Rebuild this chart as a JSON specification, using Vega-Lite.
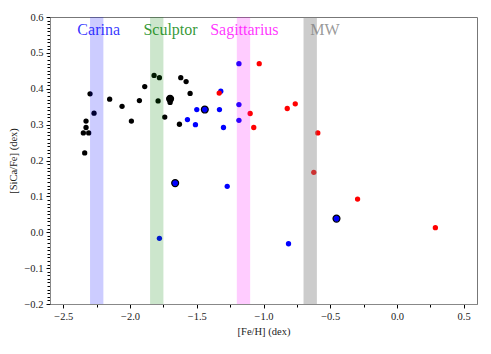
{
  "$schema": "https://vega.github.io/schema/vega-lite/v6.json",
  "autosize": {"type": "none"},
  "padding": {"left": 50, "top": 17, "right": 14, "bottom": 50},
  "width": 427,
  "height": 287,
  "config": {
    "view": {"stroke": "#777", "strokeWidth": 1},
    "font": "Liberation Serif",
    "axis": {"grid": false, "labelFont": "Liberation Serif", "titleFont": "Liberation Serif", "labelFontSize": 10.5, "titleFontSize": 10.5, "titleFontWeight": "normal", "labelColor": "#222", "titleColor": "#222", "domainColor": "#888", "tickColor": "#111"}
  },
  "datasets": {
    "stars": [
      {"feh": -2.30, "sica": 0.386, "grp": "black", "ring": "n"},
      {"feh": -2.27, "sica": 0.332, "grp": "black", "ring": "n"},
      {"feh": -2.33, "sica": 0.310, "grp": "black", "ring": "n"},
      {"feh": -2.33, "sica": 0.292, "grp": "black", "ring": "n"},
      {"feh": -2.35, "sica": 0.277, "grp": "black", "ring": "n"},
      {"feh": -2.31, "sica": 0.277, "grp": "black", "ring": "n"},
      {"feh": -2.34, "sica": 0.221, "grp": "black", "ring": "n"},
      {"feh": -2.153, "sica": 0.371, "grp": "black", "ring": "n"},
      {"feh": -2.06, "sica": 0.351, "grp": "black", "ring": "n"},
      {"feh": -1.99, "sica": 0.310, "grp": "black", "ring": "n"},
      {"feh": -1.93, "sica": 0.367, "grp": "black", "ring": "n"},
      {"feh": -1.89, "sica": 0.406, "grp": "black", "ring": "n"},
      {"feh": -1.82, "sica": 0.437, "grp": "black", "ring": "n"},
      {"feh": -1.78, "sica": 0.431, "grp": "black", "ring": "n"},
      {"feh": -1.79, "sica": 0.366, "grp": "black", "ring": "n"},
      {"feh": -1.70, "sica": 0.362, "grp": "black", "ring": "n"},
      {"feh": -1.62, "sica": 0.431, "grp": "black", "ring": "n"},
      {"feh": -1.58, "sica": 0.420, "grp": "black", "ring": "n"},
      {"feh": -1.55, "sica": 0.387, "grp": "black", "ring": "n"},
      {"feh": -1.74, "sica": 0.321, "grp": "black", "ring": "n"},
      {"feh": -1.63, "sica": 0.301, "grp": "black", "ring": "n"},
      {"feh": -1.70, "sica": 0.372, "grp": "black", "ring": "y"},
      {"feh": -1.662, "sica": 0.137, "grp": "blue", "ring": "y"},
      {"feh": -1.57, "sica": 0.314, "grp": "blue", "ring": "n"},
      {"feh": -1.51, "sica": 0.300, "grp": "blue", "ring": "n"},
      {"feh": -1.50, "sica": 0.342, "grp": "blue", "ring": "n"},
      {"feh": -1.44, "sica": 0.342, "grp": "blue", "ring": "y"},
      {"feh": -1.33, "sica": 0.342, "grp": "blue", "ring": "n"},
      {"feh": -1.32, "sica": 0.393, "grp": "blue", "ring": "n"},
      {"feh": -1.30, "sica": 0.292, "grp": "blue", "ring": "n"},
      {"feh": -1.184, "sica": 0.470, "grp": "blue", "ring": "n"},
      {"feh": -1.184, "sica": 0.356, "grp": "blue", "ring": "n"},
      {"feh": -1.184, "sica": 0.312, "grp": "blue", "ring": "n"},
      {"feh": -1.272, "sica": 0.128, "grp": "blue", "ring": "n"},
      {"feh": -1.78, "sica": -0.017, "grp": "blue", "ring": "n"},
      {"feh": -0.8125, "sica": -0.032, "grp": "blue", "ring": "n"},
      {"feh": -0.453, "sica": 0.038, "grp": "blue", "ring": "y"},
      {"feh": -1.332, "sica": 0.388, "grp": "red", "ring": "n"},
      {"feh": -1.032, "sica": 0.470, "grp": "red", "ring": "n"},
      {"feh": -1.10, "sica": 0.331, "grp": "red", "ring": "n"},
      {"feh": -1.073, "sica": 0.292, "grp": "red", "ring": "n"},
      {"feh": -0.822, "sica": 0.345, "grp": "red", "ring": "n"},
      {"feh": -0.762, "sica": 0.358, "grp": "red", "ring": "n"},
      {"feh": -0.593, "sica": 0.277, "grp": "red", "ring": "n"},
      {"feh": -0.623, "sica": 0.167, "grp": "red", "ring": "n"},
      {"feh": -0.295, "sica": 0.0925, "grp": "red", "ring": "n"},
      {"feh": 0.288, "sica": 0.0128, "grp": "red", "ring": "n"}
    ],
    "bands": [
      {"name": "Carina", "x1": -2.3, "x2": -2.2, "lx": -2.395, "ly": 0.55},
      {"name": "Sculptor", "x1": -1.85, "x2": -1.75, "lx": -1.90, "ly": 0.55},
      {"name": "Sagittarius", "x1": -1.2, "x2": -1.1, "lx": -1.40, "ly": 0.55},
      {"name": "MW", "x1": -0.7, "x2": -0.6, "lx": -0.65, "ly": 0.55}
    ]
  },
  "resolve": {"axis": {"x": "independent", "y": "independent"}, "scale": {"color": "independent"}},
  "layer": [
    {
      "data": {"name": "stars"},
      "mark": {"type": "point", "filled": true, "stroke": "#000", "opacity": 1},
      "encoding": {
        "x": {"field": "feh", "type": "quantitative", "scale": {"domain": [-2.6, 0.6], "nice": false, "zero": false},
              "axis": {"values": [-2.5, -2.0, -1.5, -1.0, -0.5, 0.0, 0.5], "format": ".1f", "title": "[Fe/H] (dex)", "tickSize": 4, "labelPadding": 3, "titlePadding": 5, "orient": "bottom"}},
        "y": {"field": "sica", "type": "quantitative", "scale": {"domain": [-0.2, 0.6], "nice": false, "zero": false},
              "axis": {"values": [-0.2, -0.1, 0.0, 0.1, 0.2, 0.3, 0.4, 0.5, 0.6], "format": ".1f", "title": "[SiCa/Fe] (dex)", "tickSize": 4, "labelPadding": 3, "titlePadding": 5, "orient": "left"}},
        "color": {"field": "grp", "type": "nominal", "scale": {"domain": ["black", "blue", "red"], "range": ["#000000", "#0000ff", "#ff0000"]}, "legend": null},
        "size": {"field": "ring", "type": "nominal", "scale": {"domain": ["n", "y"], "range": [28, 48]}, "legend": null},
        "strokeWidth": {"field": "ring", "type": "nominal", "scale": {"domain": ["n", "y"], "range": [0, 1.2]}, "legend": null}
      }
    },
    {
      "data": {"name": "bands"},
      "mark": {"type": "rect", "opacity": 1},
      "encoding": {
        "x": {"field": "x1", "type": "quantitative", "axis": {"values": [-2.5, -2.25, -2.0, -1.75, -1.5, -1.25, -1.0, -0.75, -0.5, -0.25, 0.0, 0.25, 0.5], "labelExpr": "''", "title": " ", "ticks": true, "tickSize": 3, "tickWidth": 1, "tickColor": "#000", "tickOpacity": 1, "orient": "bottom"}},
        "x2": {"field": "x2"},
        "color": {"field": "name", "type": "nominal", "scale": {"domain": ["Carina", "Sculptor", "Sagittarius", "MW"], "range": ["rgba(0,0,255,0.2)", "rgba(0,128,0,0.2)", "rgba(255,0,255,0.2)", "rgba(128,128,128,0.4)"]}, "legend": null}
      }
    },
    {
      "data": {"name": "bands"},
      "mark": {"type": "text", "align": "left", "baseline": "alphabetic", "fontSize": 16, "font": "Liberation Serif"},
      "encoding": {
        "x": {"field": "lx", "type": "quantitative", "axis": null},
        "y": {"field": "ly", "type": "quantitative", "axis": {"values": [-0.2, -0.19, -0.18, -0.17, -0.16, -0.15, -0.14, -0.13, -0.12, -0.11, -0.1, -0.09, -0.08, -0.07, -0.06, -0.05, -0.04, -0.03, -0.02, -0.01, 0.0, 0.01, 0.02, 0.03, 0.04, 0.05, 0.06, 0.07, 0.08, 0.09, 0.1, 0.11, 0.12, 0.13, 0.14, 0.15, 0.16, 0.17, 0.18, 0.19, 0.2, 0.21, 0.22, 0.23, 0.24, 0.25, 0.26, 0.27, 0.28, 0.29, 0.3, 0.31, 0.32, 0.33, 0.34, 0.35, 0.36, 0.37, 0.38, 0.39, 0.4, 0.41, 0.42, 0.43, 0.44, 0.45, 0.46, 0.47, 0.48, 0.49, 0.5, 0.51, 0.52, 0.53, 0.54, 0.55, 0.56, 0.57, 0.58, 0.59, 0.6], "labelExpr": "''", "title": " ", "ticks": true, "tickSize": 3, "tickWidth": 1, "tickColor": "#000", "tickOpacity": 1, "orient": "left"}},
        "text": {"field": "name"},
        "color": {"field": "name", "type": "nominal", "scale": {"domain": ["Carina", "Sculptor", "Sagittarius", "MW"], "range": ["rgba(0,0,255,0.8)", "rgba(0,128,0,0.8)", "rgba(255,0,255,0.8)", "rgba(128,128,128,0.8)"]}, "legend": null}
      }
    }
  ]
}
